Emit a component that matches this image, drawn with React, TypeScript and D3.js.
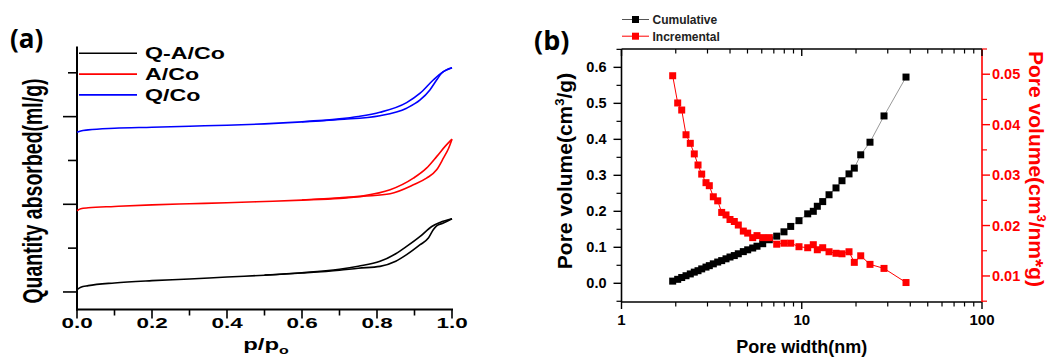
import React from "react";
import * as d3 from "d3";

// ---------- Panel (a): isotherms ----------
const isoPressureTicks = [0, 0.1, 0.2, 0.3, 0.4, 0.5, 0.6, 0.7, 0.8, 0.9, 1.0];
const isoLabelTicks = [0, 0.2, 0.4, 0.6, 0.8, 1.0];
const isoYTicks = [0, 50, 100, 150, 200, 250];

const legendA = ["Q-A/Co", "A/Co", "Q/Co"];
const colorsA = ["#000000", "#ff0000", "#0000ff"];

const qaAdsP = [0, 0.01, 0.03, 0.1, 0.2, 0.3, 0.4, 0.5, 0.6, 0.7, 0.75, 0.808, 0.85, 0.879, 0.915, 0.937, 0.95, 0.959, 0.977, 1.0];
const qaAdsV = [2.6, 5.5, 7.2, 10.3, 12.9, 14.8, 17.1, 19.1, 21.6, 24.8, 27.1, 29.2, 35, 42.5, 53.9, 61.5, 71, 75.5, 78.6, 83.5];
const qaDesP = [0.5, 0.6, 0.7, 0.75, 0.808, 0.85, 0.879, 0.915, 0.946, 0.968, 1.0];
const qaDesV = [19.4, 22, 26, 29.4, 34.9, 43.6, 51.9, 63.3, 74.7, 79.3, 83.5];

const aAdsP = [0, 0.01, 0.03, 0.1, 0.2, 0.3, 0.4, 0.5, 0.6, 0.7, 0.764, 0.835, 0.897, 0.932, 0.959, 0.977, 0.991, 1.0];
const aAdsV = [92.6, 94.9, 96, 97.5, 99.4, 100.6, 101.7, 103.2, 104.8, 106.8, 109.1, 112, 122.2, 129.8, 139.3, 152.6, 164, 174.3];
const aDesP = [0.6, 0.7, 0.764, 0.835, 0.897, 0.932, 0.959, 0.981, 1.0];
const aDesV = [104.9, 107.4, 109.7, 116.5, 129.8, 141.2, 154.4, 165.8, 174.3];

const qAdsP = [0, 0.01, 0.03, 0.1, 0.2, 0.3, 0.4, 0.5, 0.6, 0.7, 0.808, 0.879, 0.915, 0.941, 0.959, 0.972, 1.0];
const qAdsV = [182.2, 183.7, 184.9, 186.8, 187.9, 189.1, 190.2, 191.7, 194, 196.8, 201.1, 209.6, 219, 230.4, 241.8, 249.4, 255.8];
const qDesP = [0.6, 0.7, 0.75, 0.808, 0.879, 0.915, 0.95, 0.977, 1.0];
const qDesV = [194.2, 197.4, 200.2, 205, 216, 226.7, 241.8, 251.3, 255.8];

// ---------- Panel (b): pore size distribution ----------
const poreWidth = [1.923, 2.05, 2.158, 2.28, 2.408, 2.534, 2.658, 2.786, 2.943, 3.07, 3.231, 3.418, 3.596, 3.8, 3.999, 4.225, 4.446, 4.74, 5.013, 5.345, 5.646, 6.073, 6.607, 7.262, 7.971, 8.682, 9.654, 10.79, 11.59, 12.2, 13.07, 14.17, 15.49, 16.72, 18.29, 19.57, 21.24, 23.91, 28.6, 37.88];
const cumulative = [0.006, 0.011, 0.016, 0.021, 0.026, 0.031, 0.035, 0.04, 0.045, 0.049, 0.054, 0.059, 0.063, 0.068, 0.073, 0.077, 0.082, 0.088, 0.093, 0.098, 0.103, 0.11, 0.121, 0.131, 0.143, 0.158, 0.174, 0.193, 0.2, 0.214, 0.227, 0.246, 0.265, 0.285, 0.304, 0.32, 0.357, 0.392, 0.465, 0.573];
const incremental = [0.0497, 0.0443, 0.0429, 0.038, 0.0363, 0.0342, 0.032, 0.0302, 0.0285, 0.0279, 0.0257, 0.0249, 0.0226, 0.0221, 0.0212, 0.0208, 0.0201, 0.0189, 0.0185, 0.0176, 0.018, 0.0176, 0.0176, 0.0163, 0.0165, 0.0165, 0.0158, 0.0156, 0.0162, 0.0152, 0.0156, 0.0148, 0.0145, 0.0144, 0.0148, 0.0127, 0.014, 0.0123, 0.0115, 0.0087];

const leftTicksB = [0, 0.1, 0.2, 0.3, 0.4, 0.5, 0.6];
const leftMinorB = [-0.05, 0.05, 0.15, 0.25, 0.35, 0.45, 0.55, 0.65];
const rightTicksB = [0.01, 0.02, 0.03, 0.04, 0.05];
const rightMinorB = [0.005, 0.015, 0.025, 0.035, 0.045, 0.055];
const xMajorB = [1, 10, 100];
const xMinorB = [2, 3, 4, 5, 6, 7, 8, 9, 20, 30, 40, 50, 60, 70, 80, 90];
const legendB = ["Cumulative", "Incremental"];

const FONT = "'Liberation Sans', Arial, sans-serif";
const RED = "#ff0000";
const SX = 1.45; // horizontal stretch of panel (a) text

export default function App() {
  // scales panel a
  const xA = d3.scaleLinear().domain([0, 1]).range([77, 452]);
  const yA = d3.scaleLinear().domain([-20, 280]).range([309.5, 46.5]);
  const lineA = (ps: number[], vs: number[]) =>
    d3
      .line<number>()
      .x((_, i) => xA(ps[i]))
      .y((_, i) => yA(vs[i]))
      .curve(d3.curveMonotoneX)(ps) || "";
  const curvesA = [
    [qaAdsP, qaAdsV, qaDesP, qaDesV],
    [aAdsP, aAdsV, aDesP, aDesV],
    [qAdsP, qAdsV, qDesP, qDesV],
  ];

  // scales panel b
  const xB = d3.scaleLog().domain([1, 100]).range([621.5, 982]);
  const yL = d3.scaleLinear().domain([-0.052, 0.651]).range([302, 49]);
  const yR = d3.scaleLinear().domain([0.00484, 0.055]).range([302, 49]);
  const cumLine =
    d3
      .line<number>()
      .x((d) => xB(d))
      .y((_, i) => yL(cumulative[i]))(poreWidth) || "";
  const incLine =
    d3
      .line<number>()
      .x((d) => xB(d))
      .y((_, i) => yR(incremental[i]))(poreWidth) || "";
  const sq = 7;

  const [x0, x1] = xB.range();
  const [yb, yt] = yL.range();

  return (
    <svg
      width={1049}
      height={359}
      style={{ position: "absolute", left: 0, top: 0, background: "#fff" }}
      fontFamily={FONT}
    >
      <rect x={0} y={0} width={1049} height={359} fill="#fff" />

      {/* ================= Panel (a) ================= */}
      <text x={10} y={48} fontSize={26} fontWeight={700} fontFamily="'Open Sans', 'Noto Sans', sans-serif">
        (a)
      </text>

      {/* axes */}
      <line x1={xA(0)} x2={xA(0)} y1={yA.range()[1]} y2={yA.range()[0] + 1} stroke="#000" strokeWidth={2} />
      <line x1={xA(0) - 1} x2={xA(1) + 1} y1={yA.range()[0]} y2={yA.range()[0]} stroke="#000" strokeWidth={2} />
      {isoYTicks.map((t, i) => (
        <line
          key={"ya" + t}
          x1={xA(0) - (i % 2 === 0 ? 14 : 9)}
          x2={xA(0)}
          y1={yA(t)}
          y2={yA(t)}
          stroke="#000"
          strokeWidth={1.6}
        />
      ))}
      {isoPressureTicks.map((t, i) => (
        <line
          key={"xa" + t}
          x1={xA(t)}
          x2={xA(t)}
          y1={yA.range()[0]}
          y2={yA.range()[0] + (i % 2 === 0 ? 9 : 6)}
          stroke="#000"
          strokeWidth={1.6}
        />
      ))}
      {isoLabelTicks.map((t) => (
        <text
          key={"xl" + t}
          transform={`translate(${xA(t)},327.5) scale(${SX},1)`}
          textAnchor="middle"
          fontSize={15.5}
          fontWeight="bold"
        >
          {t.toFixed(1)}
        </text>
      ))}
      <text transform={`translate(266,349.5) scale(${SX},1)`} textAnchor="middle" fontSize={16.5} fontWeight="bold">
        p/p
        <tspan fontSize={11} dy={4}>
          o
        </tspan>
      </text>
      <text
        transform={`translate(42,191) rotate(-90) scale(1,${SX})`}
        textAnchor="middle"
        fontSize={19.5}
        fontWeight="bold"
      >
        Quantity absorbed(ml/g)
      </text>

      {/* curves */}
      {curvesA.map((c, i) => (
        <g key={"c" + i} fill="none" stroke={colorsA[i]} strokeWidth={1.6}>
          <path d={lineA(c[0], c[1])} />
          <path d={lineA(c[2], c[3])} />
        </g>
      ))}

      {/* legend a */}
      {legendA.map((name, i) => {
        const y = 53.3 + i * 20.8;
        return (
          <g key={name}>
            <line x1={79} x2={137} y1={y} y2={y} stroke={colorsA[i]} strokeWidth={1.6} />
            <text transform={`translate(145,${y + 6}) scale(${SX},1)`} fontSize={16} fontWeight="bold">
              {name}
            </text>
          </g>
        );
      })}

      {/* ================= Panel (b) ================= */}
      <text x={534} y={50} fontSize={27} fontWeight={700} fontFamily="'Open Sans', 'Noto Sans', sans-serif">
        (b)
      </text>

      {/* frame */}
      <line x1={x0} x2={x1} y1={yt} y2={yt} stroke="#000" strokeWidth={1.6} />
      <line x1={x0} x2={x1} y1={yb} y2={yb} stroke="#000" strokeWidth={1.6} />
      <line x1={x0} x2={x0} y1={yt} y2={yb} stroke="#000" strokeWidth={1.6} />
      <line x1={x1} x2={x1} y1={yt} y2={yb} stroke={RED} strokeWidth={1.6} />

      {/* x ticks */}
      {xMajorB.map((t) => (
        <g key={"xbM" + t}>
          <line x1={xB(t)} x2={xB(t)} y1={yb} y2={yb + 7} stroke="#000" strokeWidth={1.4} />
          <line x1={xB(t)} x2={xB(t)} y1={yt} y2={yt + 7} stroke="#000" strokeWidth={1.4} />
          <text x={xB(t)} y={325} textAnchor="middle" fontSize={15} fontWeight="bold">
            {t}
          </text>
        </g>
      ))}
      {xMinorB.map((t) => (
        <g key={"xbm" + t}>
          <line x1={xB(t)} x2={xB(t)} y1={yb} y2={yb + 4.5} stroke="#000" strokeWidth={1.2} />
          <line x1={xB(t)} x2={xB(t)} y1={yt} y2={yt + 4.5} stroke="#000" strokeWidth={1.2} />
        </g>
      ))}
      <text x={801.7} y={353} textAnchor="middle" fontSize={18} fontWeight="bold">
        Pore width(nm)
      </text>

      {/* left y ticks */}
      {leftTicksB.map((t) => (
        <g key={"yl" + t}>
          <line x1={x0 - 8} x2={x0} y1={yL(t)} y2={yL(t)} stroke="#000" strokeWidth={1.4} />
          <text x={606.5} y={yL(t) + 5} textAnchor="end" fontSize={14.5} fontWeight="bold">
            {t.toFixed(1)}
          </text>
        </g>
      ))}
      {leftMinorB.map((t) => (
        <line key={"ylm" + t} x1={x0 - 5} x2={x0} y1={yL(t)} y2={yL(t)} stroke="#000" strokeWidth={1.2} />
      ))}
      <text
        transform="translate(572,171) rotate(-90)"
        textAnchor="middle"
        fontSize={21}
        fontWeight="bold"
      >
        Pore volume(cm
        <tspan fontSize={13} dy={-8}>
          3
        </tspan>
        <tspan dy={8}>/g)</tspan>
      </text>

      {/* right y ticks */}
      {rightTicksB.map((t) => (
        <g key={"yr" + t}>
          <line x1={x1} x2={x1 + 8} y1={yR(t)} y2={yR(t)} stroke={RED} strokeWidth={1.4} />
          <text x={992} y={yR(t) + 5} fontSize={14.5} fontWeight="bold" fill={RED}>
            {t.toFixed(2)}
          </text>
        </g>
      ))}
      {rightMinorB.map((t) => (
        <line key={"yrm" + t} x1={x1} x2={x1 + 5} y1={yR(t)} y2={yR(t)} stroke={RED} strokeWidth={1.2} />
      ))}
      <text
        transform="translate(1029,169) rotate(90)"
        textAnchor="middle"
        fontSize={21}
        fontWeight="bold"
        fill={RED}
      >
        Pore volume(cm
        <tspan fontSize={13} dy={-8}>
          3
        </tspan>
        <tspan dy={8}>/nm*g)</tspan>
      </text>

      {/* series */}
      <path d={cumLine} fill="none" stroke="#999" strokeWidth={1} />
      <path d={incLine} fill="none" stroke={RED} strokeWidth={1} />
      {poreWidth.map((w, i) => (
        <rect
          key={"cs" + i}
          x={xB(w) - sq / 2}
          y={yL(cumulative[i]) - sq / 2}
          width={sq}
          height={sq}
          fill="#000"
        />
      ))}
      {poreWidth.map((w, i) => (
        <rect
          key={"is" + i}
          x={xB(w) - sq / 2}
          y={yR(incremental[i]) - sq / 2}
          width={sq}
          height={sq}
          fill={RED}
        />
      ))}

      {/* legend b */}
      {legendB.map((name, i) => {
        const y = 19.5 + i * 16.7;
        const c = i === 0 ? "#000" : RED;
        return (
          <g key={name}>
            <line x1={622} x2={649} y1={y} y2={y} stroke={i === 0 ? "#555" : RED} strokeWidth={1} />
            <rect x={635.5 - sq / 2} y={y - sq / 2} width={sq} height={sq} fill={c} />
            <text x={652.5} y={y + 4.3} fontSize={12} fontWeight="bold" fill="#222">
              {name}
            </text>
          </g>
        );
      })}
    </svg>
  );
}
